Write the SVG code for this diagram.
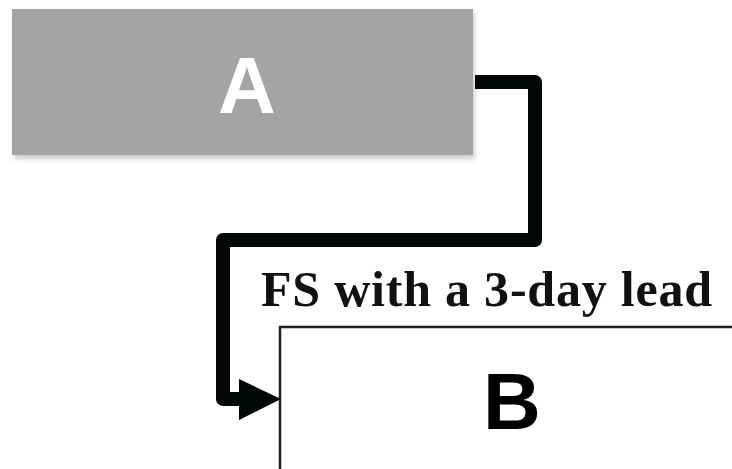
<svg xmlns="http://www.w3.org/2000/svg" width="732" height="469" viewBox="0 0 732 469">
  <defs>
    <style>
      .lbl { font-family: "Liberation Sans", Arial, sans-serif; font-weight: bold; font-size: 80px; text-anchor: middle; }
      .conn { fill: none; stroke: #030806; stroke-width: 14; stroke-linejoin: round; }
      .note { font-family: "Liberation Serif", "Times New Roman", serif; font-weight: bold; font-size: 50px; fill: #111; }
    </style>
    <filter id="sh" x="-5%" y="-5%" width="110%" height="115%">
      <feGaussianBlur stdDeviation="2"/>
    </filter>
  </defs>
  <rect width="732" height="469" fill="#ffffff"/>
  <g id="nodeA">
    <rect x="14" y="12" width="461" height="147" fill="#cfcfcf" filter="url(#sh)"/>
    <rect x="12" y="9" width="461" height="146" fill="#a4a4a4"/>
    <text class="lbl" x="247" y="113" fill="#ffffff">A</text>
  </g>
  <g id="nodeB">
    <rect x="280" y="327" width="470" height="160" fill="#ffffff" stroke="#222" stroke-width="2.5"/>
    <text class="lbl" x="512" y="429" fill="#000000">B</text>
  </g>
  <g id="connectors">
    <path class="conn" d="M475,82 H535 V240 H223 V399 H245"/>
    <polygon points="239,379 281,399 239,420" fill="#030806"/>
    <text class="note" x="261" y="306" textLength="451" lengthAdjust="spacing">FS with a 3-day lead</text>
  </g>
</svg>
